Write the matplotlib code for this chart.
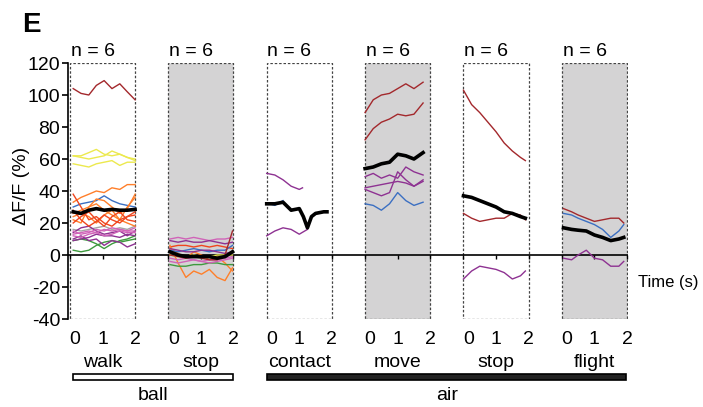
import matplotlib.pyplot as plt
from matplotlib.patches import Rectangle

plt.rcParams['font.family'] = ['Liberation Sans', 'DejaVu Sans']
plt.rcParams['axes.unicode_minus'] = False

# colours of the traces
DARKRED = '#a3282c'
YELLOW = '#ece94e'
ORANGE = '#ff7f2a'
REDORANGE = '#f0461e'
BLUE = '#3b6fc2'
PURPLE = '#8e3292'
PINK = '#d063b8'
GRAY = '#a5a5a5'
GREEN = '#3e9a3e'
MEAN = 'black'

panel_names = ['walk', 'stop', 'contact', 'move', 'stop', 'flight']
n_cells = [6, 6, 6, 6, 6, 6]
shaded = [False, True, False, True, False, True]
y_ticks = [-40, -20, 0, 20, 40, 60, 80, 100, 120]
time_ticks = [0, 1, 2]

# ball / walk
t_walk = [0.1, 0.34, 0.58, 0.81, 1.05, 1.29, 1.53, 1.76, 2.0]
walk_darkred = [104, 101, 100, 106, 109, 104, 107, 102, 97]
walk_yellow1 = [62, 62, 64, 66, 63, 62, 63, 61, 60]
walk_yellow2 = [62, 61, 60, 61, 62, 65, 63, 61, 59]
walk_yellow3 = [57, 56, 55, 57, 58, 59, 56, 58, 58]
walk_orange1 = [33, 36, 38, 40, 39, 42, 41, 44, 44]
walk_orange2 = [26, 28, 30, 35, 34, 30, 26, 29, 38]
walk_orange3 = [22, 20, 30, 32, 28, 25, 22, 30, 36]
walk_orange4 = [24, 26, 24, 20, 25, 28, 22, 20, 18]
walk_red1 = [38, 30, 22, 24, 20, 18, 22, 24, 25]
walk_red2 = [20, 24, 27, 22, 18, 24, 27, 22, 21]
walk_red3 = [28, 22, 18, 21, 25, 22, 20, 24, 27]
walk_blue = [30, 32, 33, 34, 37, 34, 32, 31, 30]
walk_purple1 = [14, 17, 18, 15, 13, 14, 15, 12, 15]
walk_purple2 = [10, 12, 9, 10, 6, 9, 8, 5, 7]
walk_purple3 = [9, 10, 11, 13, 12, 12, 11, 13, 12]
walk_pink1 = [13, 14, 15, 14, 16, 15, 16, 15, 17]
walk_pink2 = [12, 11, 13, 14, 12, 13, 15, 14, 14]
walk_pink3 = [15, 13, 14, 16, 15, 17, 16, 15, 15]
walk_gray = [16, 15, 16, 17, 18, 16, 17, 16, 18]
walk_green1 = [3, 2, 3, 6, 8, 9, 8, 9, 10]
walk_green2 = [9, 10, 9, 7, 4, 7, 9, 10, 12]
walk_mean = [27, 26, 28, 29, 28, 28.5, 28, 28, 28.5]

# ball / stop
t_stop = [0.05, 0.3, 0.54, 0.78, 1.02, 1.26, 1.5, 1.74, 1.97]
stop_pink1 = [10, 11, 10, 11, 10, 9, 10, 10, 11]
stop_purple1 = [9, 8, 9, 8, 8, 9, 8, 7, 8]
stop_red = [5, 6, 6, 5, 6, 5, 6, 5, 4]
stop_orange1 = [6, -5, -14, -10, -12, -9, -14, -16, -8]
stop_orange2 = [4, 1, -2, 2, 0, -3, -1, -5, -10]
stop_green = [-6, -7, -7, -6, -6, -5, -5, -6, -6]
stop_darkred = [0, -1, -2, -1, -2, -3, -3, 0, 15]
stop_blue = [3, 2, 3, 4, 3, 2, 3, 3, 6]
stop_yellow = [0, -1, -1, 0, -1, -1, 0, 0, 0]
stop_pink2 = [-2, -3, -2, -3, -4, -3, -3, -2, -1]
stop_purple2 = [4, 3, 2, 2, 3, 3, 2, 1, 2]
stop_pink3 = [-4, -5, -4, -3, -4, -5, -4, -3, -2]
stop_mean = [2, 0, -1, -1, -1, -1, -2, -1, 2]

# air / contact
t_contact_p1 = [0, 0.25, 0.5, 0.75, 1.0, 1.1]
contact_purple1 = [51, 50, 47, 43, 41, 42]
t_contact_blue = [0, 0.25, 0.5]
contact_blue = [32.5, 31, 34]
t_contact_p2 = [0, 0.25, 0.5, 0.75, 1.0, 1.25]
contact_purple2 = [12, 15, 17, 16, 13, 16]
t_contact_mean = [0, 0.25, 0.5, 0.75, 1.0, 1.125, 1.25, 1.375, 1.5, 1.75, 1.85]
contact_mean = [32, 32, 33, 28, 29, 24, 17, 24, 26, 27, 27]

# air / move
t_move = [0, 0.25, 0.5, 0.75, 1.0, 1.25, 1.5, 1.78]
move_darkred1 = [89, 97, 100, 101, 104, 107, 104, 108]
move_darkred2 = [72, 79, 83, 85, 88, 87, 88, 95]
move_purple1 = [49, 51, 48, 50, 48, 55, 52, 50]
move_purple2 = [42, 43, 44, 45, 46, 45, 43, 46]
move_purple3 = [41, 39, 37, 39, 52, 47, 43, 47]
move_blue = [32, 31, 28, 32, 39, 34, 31, 33]
move_mean = [54, 55, 57, 58, 63, 62, 60, 64]

# air / stop
t_astop = [0, 0.25, 0.5, 0.75, 1.0, 1.25, 1.5, 1.75, 1.9]
astop_darkred1 = [103, 94, 89, 83, 77, 70, 65, 61, 59]
astop_darkred2 = [26, 23, 21, 22, 23, 23, 26, 25, 22]
astop_purple = [-15, -10, -7, -8, -9, -11, -15, -13, -10]
astop_mean = [37, 36, 34, 32, 30, 27, 26, 24, 23]

# air / flight
t_flight = [0.05, 0.3, 0.5, 0.75, 1.0, 1.25, 1.5, 1.75, 1.9]
flight_darkred = [29, 27, 25, 23, 21, 22, 23, 23, 20]
flight_blue = [26, 25, 23, 21, 19, 16, 11, 15, 19]
flight_purple = [-2, -3, 0, 3, -2, -3, -7, -7, -4]
flight_mean = [17, 16, 15.5, 15, 12.5, 11, 9, 10, 11]

panels = [
    [(t_walk, walk_darkred, DARKRED), (t_walk, walk_yellow1, YELLOW), (t_walk, walk_yellow2, YELLOW),
     (t_walk, walk_yellow3, YELLOW), (t_walk, walk_gray, GRAY), (t_walk, walk_green1, GREEN),
     (t_walk, walk_green2, GREEN), (t_walk, walk_purple1, PURPLE), (t_walk, walk_purple2, PURPLE),
     (t_walk, walk_purple3, PURPLE), (t_walk, walk_pink1, PINK), (t_walk, walk_pink2, PINK),
     (t_walk, walk_pink3, PINK), (t_walk, walk_blue, BLUE), (t_walk, walk_orange1, ORANGE),
     (t_walk, walk_orange2, ORANGE), (t_walk, walk_orange3, ORANGE), (t_walk, walk_orange4, ORANGE),
     (t_walk, walk_red1, REDORANGE), (t_walk, walk_red2, REDORANGE), (t_walk, walk_red3, REDORANGE),
     (t_walk, walk_mean, MEAN)],
    [(t_stop, stop_pink1, PINK), (t_stop, stop_purple1, PURPLE), (t_stop, stop_red, REDORANGE),
     (t_stop, stop_orange1, ORANGE), (t_stop, stop_orange2, ORANGE), (t_stop, stop_green, GREEN),
     (t_stop, stop_blue, BLUE), (t_stop, stop_yellow, YELLOW), (t_stop, stop_pink2, PINK),
     (t_stop, stop_purple2, PURPLE), (t_stop, stop_pink3, PINK), (t_stop, stop_darkred, DARKRED),
     (t_stop, stop_mean, MEAN)],
    [(t_contact_p1, contact_purple1, PURPLE), (t_contact_blue, contact_blue, BLUE),
     (t_contact_p2, contact_purple2, PURPLE), (t_contact_mean, contact_mean, MEAN)],
    [(t_move, move_darkred1, DARKRED), (t_move, move_darkred2, DARKRED), (t_move, move_purple1, PURPLE),
     (t_move, move_purple2, PURPLE), (t_move, move_purple3, PURPLE), (t_move, move_blue, BLUE),
     (t_move, move_mean, MEAN)],
    [(t_astop, astop_darkred1, DARKRED), (t_astop, astop_darkred2, DARKRED),
     (t_astop, astop_purple, PURPLE), (t_astop, astop_mean, MEAN)],
    [(t_flight, flight_darkred, DARKRED), (t_flight, flight_blue, BLUE),
     (t_flight, flight_purple, PURPLE), (t_flight, flight_mean, MEAN)],
]

step = 3.02  # distance between panel origins, in seconds of x axis
offsets = [i * step for i in range(len(panels))]

fig = plt.figure(figsize=(7.03, 4.07), dpi=100)
ax = fig.add_axes([0.0967, 0.2162, 0.7966, 0.629])
ax.set_xlim(-0.06, offsets[-1] + 2.03)
ax.set_ylim(-40, 120)

for off, traces, grey, name, n in zip(offsets, panels, shaded, panel_names, n_cells):
    ax.add_patch(Rectangle((off, -40), 2, 160, facecolor='#d4d3d4' if grey else 'none',
                           edgecolor='#444444', linestyle=(0, (2, 1.5)), linewidth=0.9, zorder=1))
    for t, vals, col in traces:
        ax.plot([off + x for x in t], vals, color=col,
                lw=2.6 if col == MEAN else 1.0, zorder=4 if col == MEAN else 3)
    ax.text(off + 0.02, 127, f'n = {n}', ha='left', va='center', fontsize=14, clip_on=False)
    for tt in time_ticks:
        ax.text(off + tt + (0.15 if tt == 0 else 0), -53, str(tt), ha='center', va='center',
                fontsize=14, clip_on=False)
    ax.text(off + 1, -67, name, ha='center', va='center', fontsize=14, clip_on=False)

# zero line with the time ticks
ax.axhline(0, color='black', lw=1.2, zorder=2)
ax.set_xticks([off + tt for off in offsets for tt in time_ticks])
ax.tick_params(axis='x', direction='out', length=3, width=1, labelbottom=False)
ax.spines['bottom'].set_position(('data', 0))
ax.spines['bottom'].set_visible(False)
for s in ['top', 'right']:
    ax.spines[s].set_visible(False)
ax.spines['left'].set_linewidth(1.2)
ax.set_yticks(y_ticks)
ax.tick_params(axis='y', direction='out', length=4.5, width=1.2, labelsize=14, pad=1)

# ball / air bars
ax.add_patch(Rectangle((0.09, -78), offsets[1] + 2 - 0.09, 3.6, facecolor='white',
                       edgecolor='black', lw=1.2, clip_on=False))
ax.add_patch(Rectangle((offsets[2], -78), offsets[5] + 1.97 - offsets[2], 3.6, facecolor='#222222',
                       edgecolor='black', lw=1.2, clip_on=False))
ax.text((0.09 + offsets[1] + 2) / 2, -88, 'ball', ha='center', va='center', fontsize=14, clip_on=False)
ax.text((offsets[2] + offsets[5] + 2) / 2, -88, 'air', ha='center', va='center', fontsize=14, clip_on=False)

ax.text(17.45, -17, 'Time (s)', ha='left', va='center', fontsize=12, clip_on=False)
fig.text(21 / 703, 1 - 186 / 407, 'ΔF/F (%)', rotation=90, ha='center', va='center', fontsize=14)
fig.text(22 / 703, 1 - 32 / 407, 'E', ha='left', va='baseline', fontsize=20, fontweight='bold')

fig.savefig('out.png', dpi=100)
